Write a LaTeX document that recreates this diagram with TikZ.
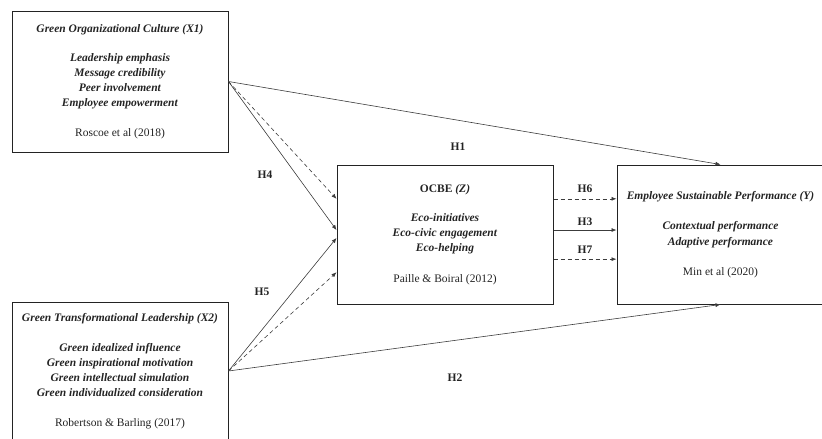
\documentclass[tikz,border=0pt]{standalone}
\usepackage{fontspec}
\setmainfont{Liberation Serif}
\usetikzlibrary{arrows.meta, positioning, calc}
\definecolor{inkgray}{RGB}{35, 35, 35}
\definecolor{linegray}{RGB}{60, 60, 60}

\begin{document}
\begin{tikzpicture}[x=1pt, y=-1pt,
  varbox/.style={draw=inkgray, line width=1pt, align=center, inner sep=0pt, text=inkgray, font=\fontsize{11.5}{15}\selectfont},
  link/.style={draw=linegray, line width=0.6pt, -{Latex[length=5pt, width=4pt]}},
  dashlink/.style={link, dash pattern=on 4pt off 3pt},
  hlabel/.style={font=\fontsize{11.5}{13}\selectfont\bfseries, text=inkgray}]
  \useasboundingbox (0,0) rectangle (822,439);

  % Variable boxes
  \node[varbox, minimum width=216pt, minimum height=141pt] (culture) at (120, 81.5) {
    \textbf{\textit{Green Organizational Culture (X1)}}\\[14pt]
    \textbf{\textit{Leadership emphasis}}\\
    \textbf{\textit{Message credibility}}\\
    \textbf{\textit{Peer involvement}}\\
    \textbf{\textit{Employee empowerment}}\\[15pt]
    Roscoe et al (2018)
  };
  \node[varbox, minimum width=216pt, minimum height=138pt] (leader) at (120, 371) {
    \textbf{\textit{Green Transformational Leadership (X2)}}\\[15pt]
    \textbf{\textit{Green idealized influence}}\\
    \textbf{\textit{Green inspirational motivation}}\\
    \textbf{\textit{Green intellectual simulation}}\\
    \textbf{\textit{Green individualized consideration}}\\[15pt]
    Robertson \& Barling (2017)
  };
  \node[varbox, minimum width=216pt, minimum height=139pt] (ocbe) at (445, 234.5) {
    \textbf{OCBE \textit{(Z)}}\\[14pt]
    \textbf{\textit{Eco-initiatives}}\\
    \textbf{\textit{Eco-civic engagement}}\\
    \textbf{\textit{Eco-helping}}\\[16pt]
    Paille \& Boiral (2012)
  };
  \node[varbox, minimum width=207pt, minimum height=139pt] (perf) at (720.5, 234.5) {
    \textbf{\textit{Employee Sustainable Performance (Y)}}\\[15pt]
    \textbf{\textit{Contextual performance}}\\[1pt]
    \textbf{\textit{Adaptive performance}}\\[15pt]
    Min et al (2020)
  };

  % Arrow ends on the box sides
  \coordinate (ocbe in1) at ($(ocbe.north west)!0.245!(ocbe.south west)$);
  \coordinate (ocbe in2) at ($(ocbe.north west)!0.468!(ocbe.south west)$);
  \coordinate (ocbe in3) at ($(ocbe.north west)!0.525!(ocbe.south west)$);
  \coordinate (ocbe in4) at ($(ocbe.north west)!0.77!(ocbe.south west)$);
  \coordinate (ocbe out1) at ($(ocbe.north east)!0.245!(ocbe.south east)$);
  \coordinate (ocbe out2) at ($(ocbe.north east)!0.468!(ocbe.south east)$);
  \coordinate (ocbe out3) at ($(ocbe.north east)!0.676!(ocbe.south east)$);
  \coordinate (perf in1) at ($(perf.north west)!0.245!(perf.south west)$);
  \coordinate (perf in2) at ($(perf.north west)!0.468!(perf.south west)$);
  \coordinate (perf in3) at ($(perf.north west)!0.676!(perf.south west)$);

  % Paths
  \draw[link] (culture.east) -- (perf.north);
  \draw[dashlink] (culture.east) -- (ocbe in1);
  \draw[link] (culture.east) -- (ocbe in2);
  \draw[link] (leader.east) -- (ocbe in3);
  \draw[dashlink] (leader.east) -- (ocbe in4);
  \draw[link] (leader.east) -- (perf.south);
  \draw[dashlink] (ocbe out1) -- (perf in1);
  \draw[link] (ocbe out2) -- (perf in2);
  \draw[dashlink] (ocbe out3) -- (perf in3);

  % Hypothesis labels
  \node[hlabel] (h1) at (458, 147) {H1};
  \node[hlabel] (h2) at (455, 378) {H2};
  \node[hlabel] (h4) at (265, 175) {H4};
  \node[hlabel] (h5) at (262, 292) {H5};
  \node[hlabel] (h6) at (585, 189) {H6};
  \node[hlabel] (h3) at (585, 222) {H3};
  \node[hlabel] (h7) at (585, 250) {H7};
\end{tikzpicture}
\end{document}
